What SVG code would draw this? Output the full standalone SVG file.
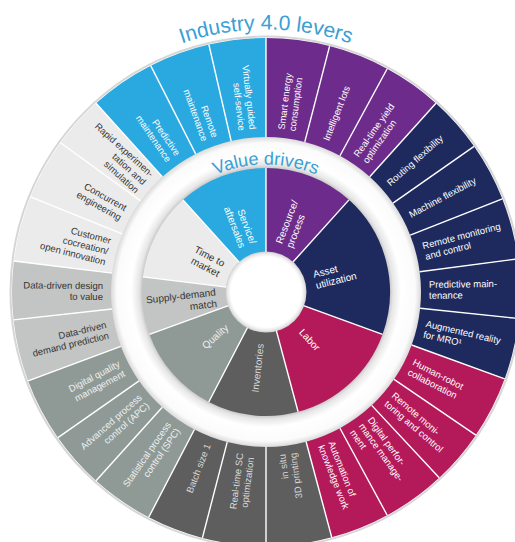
<svg xmlns="http://www.w3.org/2000/svg" width="515" height="542" viewBox="0 0 515 542">
<style>
.o{fill:none;stroke-width:99}
.i{fill:none;stroke-width:85}
.lb{fill:#29a9e0;stroke:#29a9e0}
.pu{fill:#6d2c8b;stroke:#6d2c8b}
.nv{fill:#1e2a5e;stroke:#1e2a5e}
.cr{fill:#b4195a;stroke:#b4195a}
.dg{fill:#5e5e5e;stroke:#5e5e5e}
.mg{fill:#8f9a97;stroke:#8f9a97}
.lg{fill:#c2c5c4;stroke:#c2c5c4}
.vl{fill:#ebebeb;stroke:#ebebeb}
.o,.i{fill:none}
text{font-family:"Liberation Sans",Arial,Helvetica,sans-serif}
.t{font-size:9.5px}
.n{font-size:10px}
.w{fill:#ffffff}
.k{fill:#343434}
.g1{fill:#d9d9d9}
.g2{fill:#eef1f0}
.ttl{fill:#3a9fd4}
#dividers line{stroke:#ffffff;stroke-width:1.4}
</style>
<defs>
<radialGradient id="gap" gradientUnits="userSpaceOnUse" cx="0" cy="0" r="157">
<stop offset="0.78" stop-color="#bcbcbc"/>
<stop offset="0.81" stop-color="#e6e6e6"/>
<stop offset="0.86" stop-color="#ffffff"/>
<stop offset="0.95" stop-color="#fbfbfb"/>
<stop offset="0.985" stop-color="#dcdcdc"/>
<stop offset="1" stop-color="#c2c2c2"/>
</radialGradient>
<radialGradient id="hole" gradientUnits="userSpaceOnUse" cx="0" cy="0" r="41">
<stop offset="0" stop-color="#ffffff"/>
<stop offset="0.86" stop-color="#ffffff"/>
<stop offset="0.94" stop-color="#e8e8e8"/>
<stop offset="1" stop-color="#c4c4c4"/>
</radialGradient>
<path id="arcTop" d="M -262.5 0 A 262.5 262.5 0 0 1 262.5 0"/>
<path id="arcVal" d="M -127.5 0 A 127.5 127.5 0 0 1 127.5 0"/>
</defs>
<rect width="515" height="542" fill="#ffffff"/>
<g transform="translate(266 292)">
<circle r="255.5" fill="none" stroke="#d6d6d6" stroke-width="2"/>
<circle r="157" fill="url(#gap)"/>

<!-- inner ring: value drivers -->
<g id="vd-service"><circle class="i lb" r="81.5" pathLength="360" stroke-dasharray="42 360" transform="rotate(228)"/>
<text class="n w" text-anchor="end" transform="rotate(69)"><tspan x="-50" y="-2.2">Service/</tspan><tspan x="-50" y="9.3">aftersales</tspan></text></g>
<g id="vd-resource"><circle class="i pu" r="81.5" pathLength="360" stroke-dasharray="42 360" transform="rotate(-90)"/>
<text class="n w" transform="rotate(-69)"><tspan x="50" y="-2.2">Resource/</tspan><tspan x="50" y="9.3">process</tspan></text></g>
<g id="vd-asset"><circle class="i nv" r="81.5" pathLength="360" stroke-dasharray="68 360" transform="rotate(-48)"/>
<text class="n w" transform="rotate(-14)"><tspan x="50" y="-2.2">Asset</tspan><tspan x="50" y="9.3">utilization</tspan></text></g>
<g id="vd-labor"><circle class="i cr" r="81.5" pathLength="360" stroke-dasharray="55 360" transform="rotate(20)"/>
<text class="n w" transform="rotate(47.5)"><tspan x="52" y="3.5">Labor</tspan></text></g>
<g id="vd-inventories"><circle class="i dg" r="81.5" pathLength="360" stroke-dasharray="42.5 360" transform="rotate(75)"/>
<text class="n g1" text-anchor="end" transform="rotate(-83.75)"><tspan x="-52" y="3.5">Inventories</tspan></text></g>
<g id="vd-quality"><circle class="i mg" r="81.5" pathLength="360" stroke-dasharray="42.5 360" transform="rotate(117.5)"/>
<text class="n g2" text-anchor="end" transform="rotate(-41.25)"><tspan x="-52" y="3.5">Quality</tspan></text></g>
<g id="vd-supply"><circle class="i lg" r="81.5" pathLength="360" stroke-dasharray="27 360" transform="rotate(160)"/>
<text class="n k" text-anchor="end" transform="rotate(-6.5)"><tspan x="-50" y="-2.2">Supply-demand</tspan><tspan x="-50" y="9.3">match</tspan></text></g>
<g id="vd-time"><circle class="i vl" r="81.5" pathLength="360" stroke-dasharray="41 360" transform="rotate(187)"/>
<text class="n k" text-anchor="end" transform="rotate(27.5)"><tspan x="-50" y="-2.2">Time to</tspan><tspan x="-50" y="9.3">market</tspan></text></g>

<circle r="40.5" fill="url(#hole)"/>

<!-- outer ring: industry 4.0 levers -->
<g id="l-predmaint1"><circle class="o lb" r="204.5" pathLength="360" stroke-dasharray="15 360" transform="rotate(228)"/>
<text class="t w" text-anchor="end" transform="rotate(55.5)"><tspan x="-163" y="-2">Predictive</tspan><tspan x="-163" y="9">maintenance</tspan></text></g>
<g id="l-remotemaint"><circle class="o lb" r="204.5" pathLength="360" stroke-dasharray="14 360" transform="rotate(243)"/>
<text class="t w" text-anchor="end" transform="rotate(70)"><tspan x="-163" y="-2">Remote</tspan><tspan x="-163" y="9">maintenance</tspan></text></g>
<g id="l-virtual"><circle class="o lb" r="204.5" pathLength="360" stroke-dasharray="13 360" transform="rotate(257)"/>
<text class="t w" text-anchor="end" transform="rotate(83.5)"><tspan x="-163" y="-2">Virtually guided</tspan><tspan x="-163" y="9">self-service</tspan></text></g>

<g id="l-energy"><circle class="o pu" r="204.5" pathLength="360" stroke-dasharray="14.5 360" transform="rotate(-90)"/>
<text class="t w" transform="rotate(-82.75)"><tspan x="163" y="-2">Smart energy</tspan><tspan x="163" y="9">consumption</tspan></text></g>
<g id="l-lots"><circle class="o pu" r="204.5" pathLength="360" stroke-dasharray="14 360" transform="rotate(-75.5)"/>
<text class="t w" transform="rotate(-68.5)"><tspan x="163" y="3.5">Intelligent lots</tspan></text></g>
<g id="l-yield"><circle class="o pu" r="204.5" pathLength="360" stroke-dasharray="13.5 360" transform="rotate(-61.5)"/>
<text class="t w" transform="rotate(-54.75)"><tspan x="163" y="-2">Real-time yield</tspan><tspan x="163" y="9">optimization</tspan></text></g>

<g id="l-routing"><circle class="o nv" r="204.5" pathLength="360" stroke-dasharray="13 360" transform="rotate(-48)"/>
<text class="t w" transform="rotate(-41.5)"><tspan x="163" y="3.5">Routing flexibility</tspan></text></g>
<g id="l-machine"><circle class="o nv" r="204.5" pathLength="360" stroke-dasharray="13.5 360" transform="rotate(-35)"/>
<text class="t w" transform="rotate(-28.25)"><tspan x="163" y="3.5">Machine flexibility</tspan></text></g>
<g id="l-remotemon1"><circle class="o nv" r="204.5" pathLength="360" stroke-dasharray="14 360" transform="rotate(-21.5)"/>
<text class="t w" transform="rotate(-14.5)"><tspan x="163" y="-2">Remote monitoring</tspan><tspan x="163" y="9">and control</tspan></text></g>
<g id="l-predmaint2"><circle class="o nv" r="204.5" pathLength="360" stroke-dasharray="13.5 360" transform="rotate(-7.5)"/>
<text class="t w" transform="rotate(-0.75)"><tspan x="163" y="-2">Predictive main-</tspan><tspan x="163" y="9">tenance</tspan></text></g>
<g id="l-ar"><circle class="o nv" r="204.5" pathLength="360" stroke-dasharray="14 360" transform="rotate(6)"/>
<text class="t w" transform="rotate(13)"><tspan x="163" y="-2">Augmented reality</tspan><tspan x="163" y="9">for MRO¹</tspan></text></g>

<g id="l-hrc"><circle class="o cr" r="204.5" pathLength="360" stroke-dasharray="14.3 360" transform="rotate(20)"/>
<text class="t w" transform="rotate(27.15)"><tspan x="163" y="-2">Human-robot</tspan><tspan x="163" y="9">collaboration</tspan></text></g>
<g id="l-remotemon2"><circle class="o cr" r="204.5" pathLength="360" stroke-dasharray="12.7 360" transform="rotate(34.3)"/>
<text class="t w" transform="rotate(40.65)"><tspan x="163" y="-2">Remote moni-</tspan><tspan x="163" y="9">toring and control</tspan></text></g>
<g id="l-dpm"><circle class="o cr" r="204.5" pathLength="360" stroke-dasharray="14.5 360" transform="rotate(47)"/>
<text class="t w" transform="rotate(54.25)"><tspan x="163" y="-7.5">Digital perfor-</tspan><tspan x="163" y="3.5">mance manage-</tspan><tspan x="163" y="14.5">ment</tspan></text></g>
<g id="l-akw"><circle class="o cr" r="204.5" pathLength="360" stroke-dasharray="13.5 360" transform="rotate(61.5)"/>
<text class="t w" transform="rotate(68.25)"><tspan x="163" y="-2">Automation of</tspan><tspan x="163" y="9">knowledge work</tspan></text></g>

<g id="l-insitu"><circle class="o dg" r="204.5" pathLength="360" stroke-dasharray="15 360" transform="rotate(75)"/>
<text class="t g1" text-anchor="end" transform="rotate(-97.5)"><tspan x="-163" y="-2">in situ</tspan><tspan x="-163" y="9">3D printing</tspan></text></g>
<g id="l-scopt"><circle class="o dg" r="204.5" pathLength="360" stroke-dasharray="14.5 360" transform="rotate(90)"/>
<text class="t g1" text-anchor="end" transform="rotate(-82.75)"><tspan x="-163" y="-2">Real-time SC</tspan><tspan x="-166" y="9">optimization</tspan></text></g>
<g id="l-batch"><circle class="o dg" r="204.5" pathLength="360" stroke-dasharray="13 360" transform="rotate(104.5)"/>
<text class="t g1" text-anchor="end" transform="rotate(-69)"><tspan x="-163" y="3.5">Batch size 1</tspan></text></g>

<g id="l-spc"><circle class="o mg" r="204.5" pathLength="360" stroke-dasharray="14.5 360" transform="rotate(117.5)"/>
<text class="t g2" text-anchor="end" transform="rotate(-55.25)"><tspan x="-163" y="-2">Statistical process</tspan><tspan x="-163" y="9">control (SPC)</tspan></text></g>
<g id="l-apc"><circle class="o mg" r="204.5" pathLength="360" stroke-dasharray="13 360" transform="rotate(132)"/>
<text class="t g2" text-anchor="end" transform="rotate(-41.5)"><tspan x="-163" y="-2">Advanced process</tspan><tspan x="-163" y="9">control (APC)</tspan></text></g>
<g id="l-dqm"><circle class="o mg" r="204.5" pathLength="360" stroke-dasharray="14.5 360" transform="rotate(145)"/>
<text class="t g2" text-anchor="end" transform="rotate(-27.75)"><tspan x="-163" y="-2">Digital quality</tspan><tspan x="-163" y="9">management</tspan></text></g>

<g id="l-demand"><circle class="o lg" r="204.5" pathLength="360" stroke-dasharray="14.2 360" transform="rotate(159.5)"/>
<text class="t k" text-anchor="end" transform="rotate(-13.4)"><tspan x="-163" y="-2">Data-driven</tspan><tspan x="-163" y="9">demand prediction</tspan></text></g>
<g id="l-design"><circle class="o lg" r="204.5" pathLength="360" stroke-dasharray="13.3 360" transform="rotate(173.7)"/>
<text class="t k" text-anchor="end" transform="rotate(0.35)"><tspan x="-163" y="-2">Data-driven design</tspan><tspan x="-163" y="9">to value</tspan></text></g>

<g id="l-cocreation"><circle class="o vl" r="204.5" pathLength="360" stroke-dasharray="15 360" transform="rotate(187)"/>
<text class="t k" text-anchor="end" transform="rotate(14.5)"><tspan x="-163" y="-7.5">Customer</tspan><tspan x="-163" y="3.5">cocreation/</tspan><tspan x="-163" y="14.5">open innovation</tspan></text></g>
<g id="l-concurrent"><circle class="o vl" r="204.5" pathLength="360" stroke-dasharray="14 360" transform="rotate(202)"/>
<text class="t k" text-anchor="end" transform="rotate(29)"><tspan x="-163" y="-2">Concurrent</tspan><tspan x="-163" y="9">engineering</tspan></text></g>
<g id="l-rapid"><circle class="o vl" r="204.5" pathLength="360" stroke-dasharray="12 360" transform="rotate(216)"/>
<text class="t k" text-anchor="end" transform="rotate(42)"><tspan x="-163" y="-7.5">Rapid experimen-</tspan><tspan x="-163" y="3.5">tation and</tspan><tspan x="-163" y="14.5">simulation</tspan></text></g>

<g id="dividers">
<line x1="0" y1="-155" x2="0" y2="-254"/>
<line x1="0" y1="-155" x2="0" y2="-254" transform="rotate(14.5)"/>
<line x1="0" y1="-155" x2="0" y2="-254" transform="rotate(28.5)"/>
<line x1="0" y1="-155" x2="0" y2="-254" transform="rotate(42)"/>
<line x1="0" y1="-155" x2="0" y2="-254" transform="rotate(55)"/>
<line x1="0" y1="-155" x2="0" y2="-254" transform="rotate(68.5)"/>
<line x1="0" y1="-155" x2="0" y2="-254" transform="rotate(82.5)"/>
<line x1="0" y1="-155" x2="0" y2="-254" transform="rotate(96)"/>
<line x1="0" y1="-155" x2="0" y2="-254" transform="rotate(110)"/>
<line x1="0" y1="-155" x2="0" y2="-254" transform="rotate(124.3)"/>
<line x1="0" y1="-155" x2="0" y2="-254" transform="rotate(137)"/>
<line x1="0" y1="-155" x2="0" y2="-254" transform="rotate(151.5)"/>
<line x1="0" y1="-155" x2="0" y2="-254" transform="rotate(165)"/>
<line x1="0" y1="-155" x2="0" y2="-254" transform="rotate(180)"/>
<line x1="0" y1="-155" x2="0" y2="-254" transform="rotate(194.5)"/>
<line x1="0" y1="-155" x2="0" y2="-254" transform="rotate(207.5)"/>
<line x1="0" y1="-155" x2="0" y2="-254" transform="rotate(222)"/>
<line x1="0" y1="-155" x2="0" y2="-254" transform="rotate(235)"/>
<line x1="0" y1="-155" x2="0" y2="-254" transform="rotate(249.5)"/>
<line x1="0" y1="-155" x2="0" y2="-254" transform="rotate(263.7)"/>
<line x1="0" y1="-155" x2="0" y2="-254" transform="rotate(277)"/>
<line x1="0" y1="-155" x2="0" y2="-254" transform="rotate(292)"/>
<line x1="0" y1="-155" x2="0" y2="-254" transform="rotate(306)"/>
<line x1="0" y1="-155" x2="0" y2="-254" transform="rotate(318)"/>
<line x1="0" y1="-155" x2="0" y2="-254" transform="rotate(333)"/>
<line x1="0" y1="-155" x2="0" y2="-254" transform="rotate(347)"/>
<line x1="0" y1="-40" x2="0" y2="-124"/>
<line x1="0" y1="-40" x2="0" y2="-124" transform="rotate(42)"/>
<line x1="0" y1="-40" x2="0" y2="-124" transform="rotate(110)"/>
<line x1="0" y1="-40" x2="0" y2="-124" transform="rotate(165)"/>
<line x1="0" y1="-40" x2="0" y2="-124" transform="rotate(207.5)"/>
<line x1="0" y1="-40" x2="0" y2="-124" transform="rotate(250)"/>
<line x1="0" y1="-40" x2="0" y2="-124" transform="rotate(277)"/>
<line x1="0" y1="-40" x2="0" y2="-124" transform="rotate(318)"/>
</g>

<text class="ttl" font-size="21"><textPath href="#arcTop" startOffset="50%" text-anchor="middle">Industry 4.0 levers</textPath></text>
<text class="ttl" font-size="18"><textPath href="#arcVal" startOffset="50%" text-anchor="middle">Value drivers</textPath></text>
</g>
</svg>
